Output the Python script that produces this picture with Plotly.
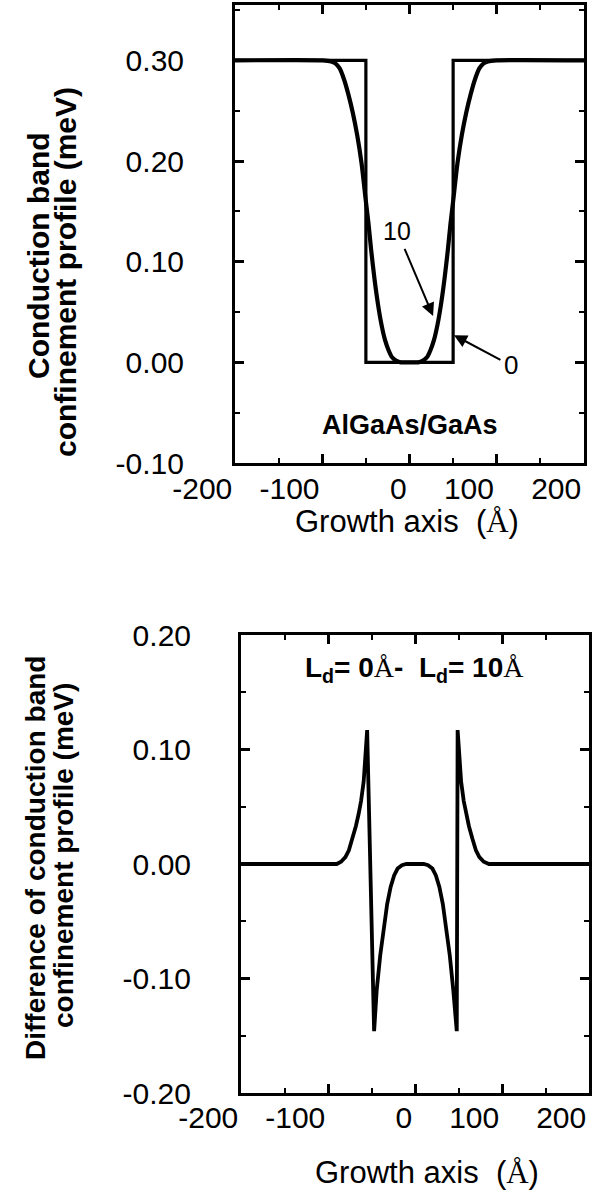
import plotly.graph_objects as go

# ---------------------------------------------------------------
# Conduction band confinement profiles of an AlGaAs/GaAs well
# (growth axis in Å, potential in meV)
# ---------------------------------------------------------------

# Abrupt interfaces (L_d = 0 Å)
x_ld0 = [-200, -50, -50, 50, 50, 200]
v_ld0 = [0.30, 0.30, 0.00, 0.00, 0.30, 0.30]

# Interdiffused interfaces (L_d = 10 Å)
x_ld10 = [-200, -100, -90, -85, -80, -75, -70, -65, -60, -55, -50, -47, -44,
          -40, -36, -32, -28, -24, -20, -15, -10, 0, 10, 15, 20, 24, 28, 32,
          36, 40, 44, 47, 50, 55, 60, 65, 70, 75, 80, 85, 90, 100, 200]
v_ld10 = [0.300, 0.300, 0.299, 0.297, 0.292, 0.281, 0.266, 0.248, 0.226,
          0.198, 0.160, 0.138, 0.112, 0.082, 0.057, 0.037, 0.022, 0.012,
          0.005, 0.0015, 0.000, 0.000, 0.000, 0.0015, 0.005, 0.012, 0.022,
          0.037, 0.057, 0.082, 0.112, 0.138, 0.160, 0.198, 0.226, 0.248,
          0.266, 0.281, 0.292, 0.297, 0.299, 0.300, 0.300]

# Difference of the two profiles (L_d = 0 Å minus L_d = 10 Å)
x_diff = [-200, -100, -90, -85, -80, -76, -72, -68, -65, -62, -59, -57, -55,
          -47, -44, -40, -36, -32, -28, -24, -20, -15, -10, 0, 10, 15, 20,
          24, 28, 32, 36, 40, 44, 48, 49, 51, 53, 56, 59, 62, 66, 70, 74, 79,
          85, 100, 200]
v_diff = [0.000, 0.000, 0.000, 0.002, 0.006, 0.012, 0.022, 0.033, 0.043,
          0.055, 0.072, 0.090, 0.117, -0.146, -0.110, -0.080, -0.055, -0.035,
          -0.020, -0.010, -0.004, -0.001, 0.000, 0.000, 0.000, -0.001, -0.004,
          -0.010, -0.020, -0.035, -0.055, -0.080, -0.110, -0.146, 0.117,
          0.090, 0.072, 0.055, 0.043, 0.033, 0.022, 0.012, 0.006, 0.002,
          0.000, 0.000, 0.000]

# Tick labels
x_tickvals = [-200, -100, 0, 100, 200]
x_ticktext = ["-200", "-100", "0", "100", "200"]
y1_tickvals = [-0.10, 0.00, 0.10, 0.20, 0.30]
y1_ticktext = ["-0.10", "0.00", "0.10", "0.20", "0.30"]
y2_tickvals = [-0.20, -0.10, 0.00, 0.10, 0.20]
y2_ticktext = ["-0.20", "-0.10", "0.00", "0.10", "0.20"]

W, H = 596, 1194
SANS = "Liberation Sans, Arial, Helvetica, sans-serif"
SERIF = "Liberation Serif"
NB = "\u00a0"
ANG = f"<span style='font-family:{SERIF};font-weight:normal'>Å</span>"


def px_x(px):
    return px / W


def px_y(py):
    return 1 - py / H


fig = go.Figure()

fig.add_trace(go.Scatter(x=x_ld0, y=v_ld0, mode="lines",
                         line=dict(color="black", width=3.2),
                         xaxis="x", yaxis="y", hoverinfo="skip"))
fig.add_trace(go.Scatter(x=x_ld10, y=v_ld10, mode="lines",
                         line=dict(color="black", width=4.2, shape="spline",
                                   smoothing=0.6),
                         xaxis="x", yaxis="y", hoverinfo="skip"))
fig.add_trace(go.Scatter(x=x_diff, y=v_diff, mode="lines",
                         line=dict(color="black", width=3.8),
                         xaxis="x2", yaxis="y2", hoverinfo="skip"))


def axis_style(tickvals, ticktext, minor_dtick, minor_tick0):
    return dict(
        showline=True, linewidth=3, linecolor="black", mirror="allticks",
        ticks="inside", ticklen=9, tickwidth=2.5, tickcolor="black",
        showgrid=False, zeroline=False, automargin=False,
        tickmode="array", tickvals=tickvals, ticktext=ticktext,
        tickfont=dict(family=SANS, size=30, color="black"),
        minor=dict(ticks="inside", ticklen=5, tickwidth=2, tickcolor="black",
                   dtick=minor_dtick, tick0=minor_tick0, showgrid=False),
        fixedrange=True,
    )


xa1 = axis_style(x_tickvals, x_ticktext, 50, -200)
xa1.update(range=[-200, 200], domain=[px_x(235), px_x(584)], anchor="y",
           ticklabelposition="outside left", ticklabelstandoff=-3)
ya1 = axis_style(y1_tickvals, y1_ticktext, 0.05, 0)
ya1.update(range=[-0.10, 0.355], domain=[px_y(463), px_y(5)], anchor="x",
           ticklabelstandoff=42)

xa2 = axis_style(x_tickvals, x_ticktext, 50, -200)
xa2.update(range=[-200, 200], domain=[px_x(241), px_x(589)], anchor="y2",
           ticklabelposition="outside left", ticklabelstandoff=-4)
ya2 = axis_style(y2_tickvals, y2_ticktext, 0.05, 0)
ya2.update(range=[-0.20, 0.20], domain=[px_y(1093), px_y(635)], anchor="x2",
           ticklabelstandoff=41)

annotations = []


def paper_text(text, cx, cy, size, bold=False, angle=0, xanchor="center"):
    annotations.append(dict(
        text=text, x=px_x(cx), y=px_y(cy), xref="paper", yref="paper",
        xanchor=xanchor, yanchor="middle", showarrow=False, textangle=angle,
        font=dict(family=SANS, size=size, color="black",
                  weight="bold" if bold else "normal")))


# Axis titles
paper_text("Conduction band", 38, 256, 30, bold=True, angle=-90)
paper_text("confinement profile (meV)", 65, 272, 30, bold=True, angle=-90)
paper_text(f"Growth axis{NB}{NB}({ANG})", 407, 521, 31)

paper_text("Difference of conduction band", 35, 858, 28, bold=True, angle=-90)
paper_text("confinement profile (meV)", 63, 856, 28, bold=True, angle=-90)
paper_text(f"Growth axis{NB}{NB}({ANG})", 427, 1172, 31)

# Panel labels
annotations.append(dict(text="AlGaAs/GaAs", x=0, y=-0.062, xref="x", yref="y",
                        showarrow=False,
                        font=dict(family=SANS, size=27, color="black",
                                  weight="bold")))
paper_text(f"L<sub>d</sub>={NB}0{ANG}-{NB}{NB}L<sub>d</sub>={NB}10{ANG}",
           303, 670, 28, bold=True, xanchor="left")

# Curve labels (L_d in Å) with arrows pointing at the curves
annotations.append(dict(text="10", x=27, y=0.046, ax=-14, ay=0.130,
                        xref="x", yref="y", axref="x", ayref="y",
                        showarrow=True, arrowhead=2, arrowsize=1.3,
                        arrowwidth=2, arrowcolor="black", startstandoff=2,
                        font=dict(family=SANS, size=25, color="black")))
annotations.append(dict(text="0", x=51, y=0.027, ax=116, ay=-0.003,
                        xref="x", yref="y", axref="x", ayref="y",
                        showarrow=True, arrowhead=2, arrowsize=1.3,
                        arrowwidth=2, arrowcolor="black", startstandoff=2,
                        font=dict(family=SANS, size=26, color="black")))

fig.update_layout(
    width=W, height=H,
    margin=dict(l=0, r=0, t=0, b=0, autoexpand=False),
    paper_bgcolor="white", plot_bgcolor="white",
    showlegend=False,
    xaxis=xa1, yaxis=ya1, xaxis2=xa2, yaxis2=ya2,
    annotations=annotations,
)

fig.write_html("out.html", config={"displayModeBar": False})
